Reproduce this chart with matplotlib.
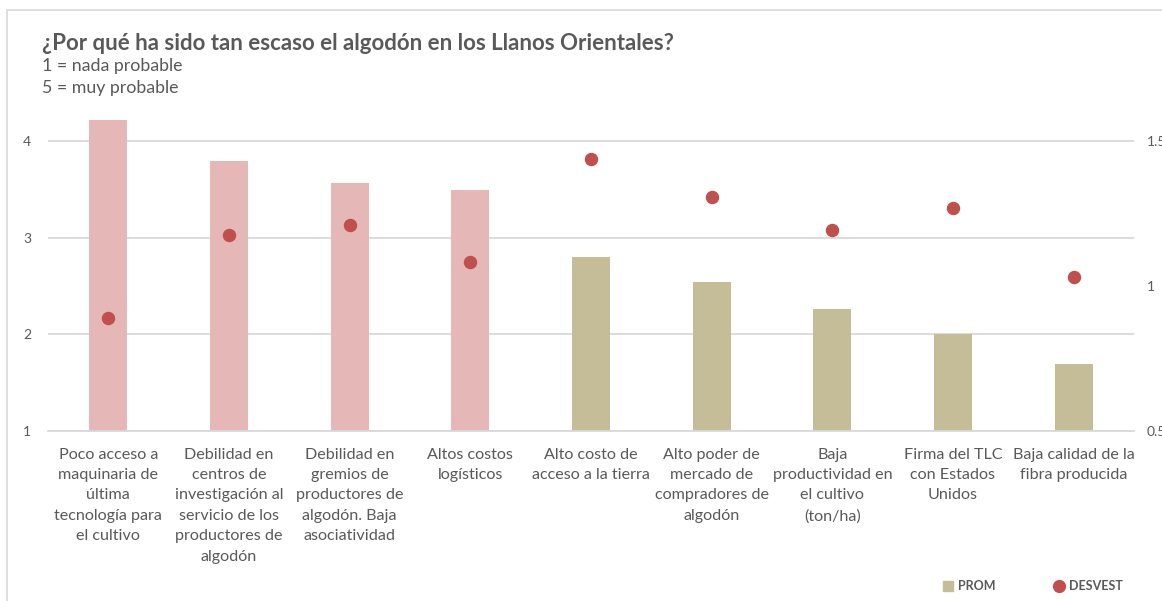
import matplotlib.pyplot as plt
from matplotlib.patches import Rectangle
from matplotlib.lines import Line2D

categorias = [
    "Poco acceso a\nmaquinaria de\núltima\ntecnología para\nel cultivo",
    "Debilidad en\ncentros de\ninvestigación al\nservicio de los\nproductores de\nalgodón",
    "Debilidad en\ngremios de\nproductores de\nalgodón. Baja\nasociatividad",
    "Altos costos\nlogísticos",
    "Alto costo de\nacceso a la tierra",
    "Alto poder de\nmercado de\ncompradores de\nalgodón",
    "Baja\nproductividad en\nel cultivo\n(ton/ha)",
    "Firma del TLC\ncon Estados\nUnidos",
    "Baja calidad de la\nfibra producida",
]
prom = [4.22, 3.79, 3.57, 3.49, 2.80, 2.54, 2.26, 2.00, 1.69]
desvest = [0.889, 1.177, 1.211, 1.082, 1.439, 1.307, 1.194, 1.269, 1.030]
# los primeros cuatro van resaltados en rosa
resaltados = [True, True, True, True, False, False, False, False, False]

rosa = "#E5B8B7"
beige = "#C4BD97"
rojo = "#C0504D"
gris = "#595959"

plt.rcParams['font.family'] = ['Lato', 'DejaVu Sans']

fig = plt.figure(figsize=(11.62, 6.01), dpi=100)

# marco del grafico (borde izquierdo y superior)
fig.patches.append(Rectangle((7 / 1162, -0.1), 1.2, (601 - 10) / 601 + 0.1,
                             transform=fig.transFigure, fill=False,
                             edgecolor="#D9D9D9", linewidth=1.2))

ax = fig.add_axes([48 / 1162, (601 - 431) / 601, (1134 - 48) / 1162, (431 - 112) / 601])
ax2 = ax.twinx()

x = list(range(len(categorias)))
colores = [rosa if r else beige for r in resaltados]
ax.bar(x, prom, width=0.315, color=colores, zorder=2)
ax2.scatter(x, desvest, s=75, color=rojo, zorder=3)

ax.set_xlim(-0.5, len(categorias) - 0.5)
ax.set_ylim(1, 4.3)
ax2.set_ylim(0.5, 1.6)
ax.set_yticks([1, 2, 3, 4])
ax.set_yticklabels(["1", "2", "3", "4"])
ax2.set_yticks([0.5, 1, 1.5])
ax2.set_yticklabels(["0.5", "1", "1.5"])
ax.yaxis.grid(True, color="#D9D9D9", linewidth=1.3, zorder=0)
ax.set_axisbelow(True)

for a in (ax, ax2):
    for s in a.spines.values():
        s.set_visible(False)
ax.spines['bottom'].set_visible(True)
ax.spines['bottom'].set_color("#D9D9D9")
ax.spines['bottom'].set_linewidth(1.3)

ax.tick_params(axis='y', length=0, pad=12, labelsize=10, labelcolor=gris)
ax2.tick_params(axis='y', length=0, pad=9, labelsize=10, labelcolor=gris)
ax.set_xticks(x)
ax.set_xticklabels(categorias, fontsize=11.6, color=gris, linespacing=1.58)
ax.tick_params(axis='x', length=0, pad=12)

fig.text(42 / 1162, 1 - 44 / 601, "¿Por qué ha sido tan escaso el algodón en los Llanos Orientales?",
         fontsize=16, fontweight="bold", color=gris, va="center")
fig.text(42 / 1162, 1 - 66 / 601, "1 = nada probable", fontsize=12.8, color=gris, va="center")
fig.text(42 / 1162, 1 - 88 / 601, "5 = muy probable", fontsize=12.8, color=gris, va="center")

handles = [
    Line2D([], [], marker="s", linestyle="none", color=beige, markersize=6.5),
    Line2D([], [], marker="o", linestyle="none", color=rojo, markersize=8.5),
]
leg = fig.legend(handles, ["PROM", "DESVEST"], loc="center", bbox_to_anchor=(1032 / 1162, 1 - 586 / 601),
                 ncol=2, frameon=False, handletextpad=0.3, handlelength=1.0, columnspacing=4.6,
                 prop={"weight": "bold", "size": 9})
for t in leg.get_texts():
    t.set_color(gris)

fig.savefig("out.png", dpi=100)
